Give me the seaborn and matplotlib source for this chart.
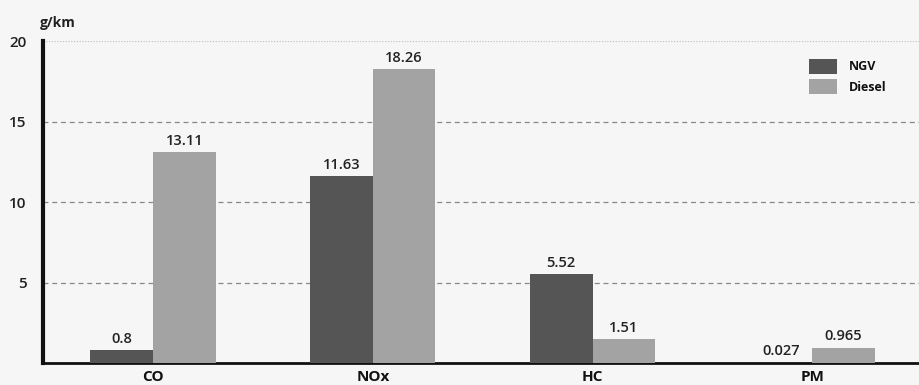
import matplotlib
matplotlib.use("Agg")
import matplotlib.pyplot as plt
import seaborn as sns
import pandas as pd

categories = ["CO", "NOx", "HC", "PM"]
ngv = [0.8, 11.63, 5.52, 0.027]
diesel = [13.11, 18.26, 1.51, 0.965]
ngv_labels = ["0.8", "11.63", "5.52", "0.027"]
diesel_labels = ["13.11", "18.26", "1.51", "0.965"]
series = ["NGV", "Diesel"]
yticks = [5, 10, 15, 20]

df = pd.DataFrame({
    "cat": categories * 2,
    "val": ngv + diesel,
    "fuel": [series[0]] * len(categories) + [series[1]] * len(categories),
})

sns.set_style("white")
plt.rcParams["font.family"] = ["Open Sans", "DejaVu Sans"]

fig = plt.figure(figsize=(9.2, 3.85), dpi=100, facecolor="#f6f6f6")
ax = fig.add_axes([0.047, 0.057, 0.953, 0.8365])
ax.set_facecolor("#f6f6f6")

palette = {"NGV": "#555555", "Diesel": "#a3a3a3"}
sns.barplot(data=df, x="cat", y="val", hue="fuel", palette=palette,
            width=0.57, gap=0.0, saturation=1, ax=ax, legend=True, zorder=3,
            linewidth=0, edgecolor="none")

for cont, labs in zip(ax.containers, [ngv_labels, diesel_labels]):
    ax.bar_label(cont, labels=labs, padding=3, fontsize=10.5,
                 fontweight="semibold", color="#222222")

ax.set_ylim(0, 20)
ax.set_xlim(-0.5, 3.49)
ax.set_yticks(yticks)
ax.set_yticklabels([str(t) for t in yticks], fontsize=11, fontweight="semibold", color="#222222")
ax.tick_params(axis="both", length=0, pad=12)
ax.tick_params(axis="x", pad=5)
for lab in ax.get_xticklabels():
    lab.set_fontweight("bold")
    lab.set_fontsize(11)
    lab.set_color("#111111")
ax.set_xlabel("")
ax.set_ylabel("")

for y in [5, 10, 15]:
    ax.axhline(y, color="#888888", lw=0.9, ls=(0, (4, 3)), zorder=1)
ax.axhline(20, color="#bbbbbb", lw=0.8, ls=(0, (1, 1.5)), zorder=1)

for s in ["top", "right"]:
    ax.spines[s].set_visible(False)
ax.spines["left"].set_linewidth(3)
ax.spines["left"].set_color("#111111")
ax.spines["bottom"].set_linewidth(2)
ax.spines["bottom"].set_color("#111111")

ax.text(-0.004, 1.035, "g/km", transform=ax.transAxes, fontsize=10,
        fontweight="bold", color="#222222", ha="left", va="bottom")

leg = ax.legend(loc="upper right", bbox_to_anchor=(0.975, 0.98), frameon=False,
                handlelength=2.2, handleheight=1.45, fontsize=9,
                labelspacing=0.45, handletextpad=1.0)
for t in leg.get_texts():
    t.set_fontweight("bold")
    t.set_color("#111111")

fig.savefig("out.png", dpi=100, facecolor=fig.get_facecolor())
